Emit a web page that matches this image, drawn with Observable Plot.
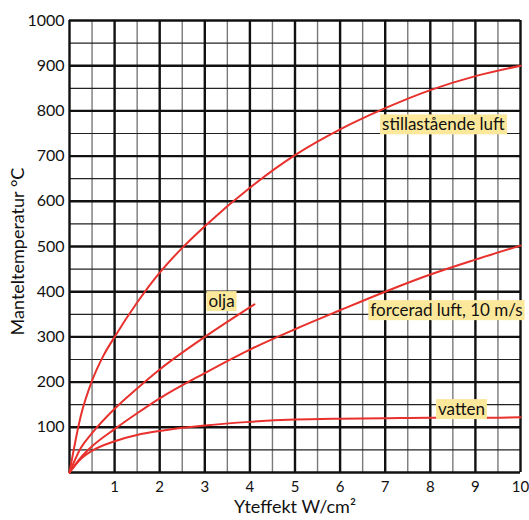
<!DOCTYPE html>
<html>
<head>
<meta charset="utf-8">
<script src="https://cdn.jsdelivr.net/npm/d3@7"></script>
<script src="https://cdn.jsdelivr.net/npm/@observablehq/plot@0.6"></script>
<style>
  html, body { margin: 0; padding: 0; background: #fff; }
  svg { font-family: Lato, "Open Sans", sans-serif; }
</style>
</head>
<body>
<div id="chart"></div>
<script>
// Yteffekt (W/cm²) and Manteltemperatur (°C) per medium
const stillX = [0, 0.25, 0.5, 0.75, 1, 1.5, 2, 2.5, 3, 4, 5, 6, 7, 8, 9, 10];
const stillY = [0, 125, 203, 258, 300, 376, 442, 497, 545, 630, 702, 759, 806, 846, 877, 900];
const oljaX = [0, 0.25, 0.5, 1, 1.5, 2, 3, 4.1];
const oljaY = [0, 54, 87, 141, 186, 228, 300, 372];
const forcX = [0, 0.25, 0.5, 1, 1.5, 2, 3, 4, 5, 6, 7, 8, 9, 10];
const forcY = [0, 33, 58, 96, 131, 164, 220, 272, 317, 359, 400, 438, 471, 502];
const vattX = [0, 0.25, 0.5, 1, 1.5, 2, 3, 4, 5, 6, 7, 8, 9, 10];
const vattY = [0, 30, 48, 69, 83, 92, 104, 112, 117, 119, 120, 121, 121, 122];

const labelText = ["stillastående luft", "olja", "forcerad luft, 10 m/s", "vatten"];
const labelX = [6.93, 3.08, 6.67, 8.17];
const labelY = [769, 378, 358, 139];

const xTicks = [1, 2, 3, 4, 5, 6, 7, 8, 9, 10];
const yTicks = [100, 200, 300, 400, 500, 600, 700, 800, 900, 1000];
const xTitle = "Yteffekt W/cm²";
const yTitle = "Manteltemperatur °C";

const series = [
  {xs: stillX, ys: stillY},
  {xs: oljaX, ys: oljaY},
  {xs: forcX, ys: forcY},
  {xs: vattX, ys: vattY}
];
const pts = (s) => s.xs.map((x, i) => ({x, y: s.ys[i]}));
const labels = labelText.map((t, i) => ({t, x: labelX[i], y: labelY[i]}));

const xHalf = d3.range(0.5, 10, 1);
const xInt = d3.range(0, 11, 1);
const yHalf = d3.range(50, 1000, 100);
const yInt = d3.range(0, 1001, 100);

const red = "#e8302c";

const plot = Plot.plot({
  width: 529,
  height: 520,
  marginLeft: 69,
  marginRight: 9,
  marginTop: 20,
  marginBottom: 48,
  style: {fontFamily: "Lato, 'Open Sans', sans-serif", fontSize: "16px", color: "#111", background: "#fff"},
  x: {domain: [0, 10]},
  y: {domain: [0, 1000]},
  marks: [
    Plot.ruleX(xHalf, {stroke: "#7a7a7a", strokeWidth: 1.4}),
    Plot.ruleY(yHalf, {stroke: "#222", strokeWidth: 1.2}),
    Plot.ruleX(xInt, {stroke: "#111", strokeWidth: 2.4}),
    Plot.ruleY(yInt, {stroke: "#111", strokeWidth: 2.4}),
    ...series.map(s => Plot.line(pts(s), {x: "x", y: "y", stroke: red, strokeWidth: 2, curve: "monotone-x"})),
    Plot.text(labels, {x: "x", y: "y", text: "t", textAnchor: "start", fontSize: 17, fill: "#111"}),
    Plot.axisX(xTicks, {tickSize: 0, tickPadding: 9, fontSize: 15, label: null, tickFormat: d => String(d)}),
    Plot.axisY(yTicks, {tickSize: 0, tickPadding: 5, fontSize: 16, label: null, tickFormat: d => String(d)}),
    Plot.text([xTitle], {frameAnchor: "bottom", dy: 40, fontSize: 18, fill: "#111", textAnchor: "middle"}),
    Plot.text([yTitle], {frameAnchor: "left", dx: -51, dy: 5, rotate: -90, fontSize: 18, fill: "#111", textAnchor: "middle"})
  ]
});

document.getElementById("chart").appendChild(plot);

// yellow backgrounds behind series labels
plot.querySelectorAll("text").forEach(t => {
  if (!labelText.includes(t.textContent)) return;
  const b = t.getBBox();
  const r = document.createElementNS("http://www.w3.org/2000/svg", "rect");
  r.setAttribute("x", b.x - 2);
  r.setAttribute("y", b.y + 1);
  r.setAttribute("width", b.width + 4);
  r.setAttribute("height", b.height - 1);
  r.setAttribute("fill", "#fce89b");
  const tr = t.getAttribute("transform");
  if (tr) r.setAttribute("transform", tr);
  t.parentNode.insertBefore(r, t);
});
</script>
</body>
</html>
